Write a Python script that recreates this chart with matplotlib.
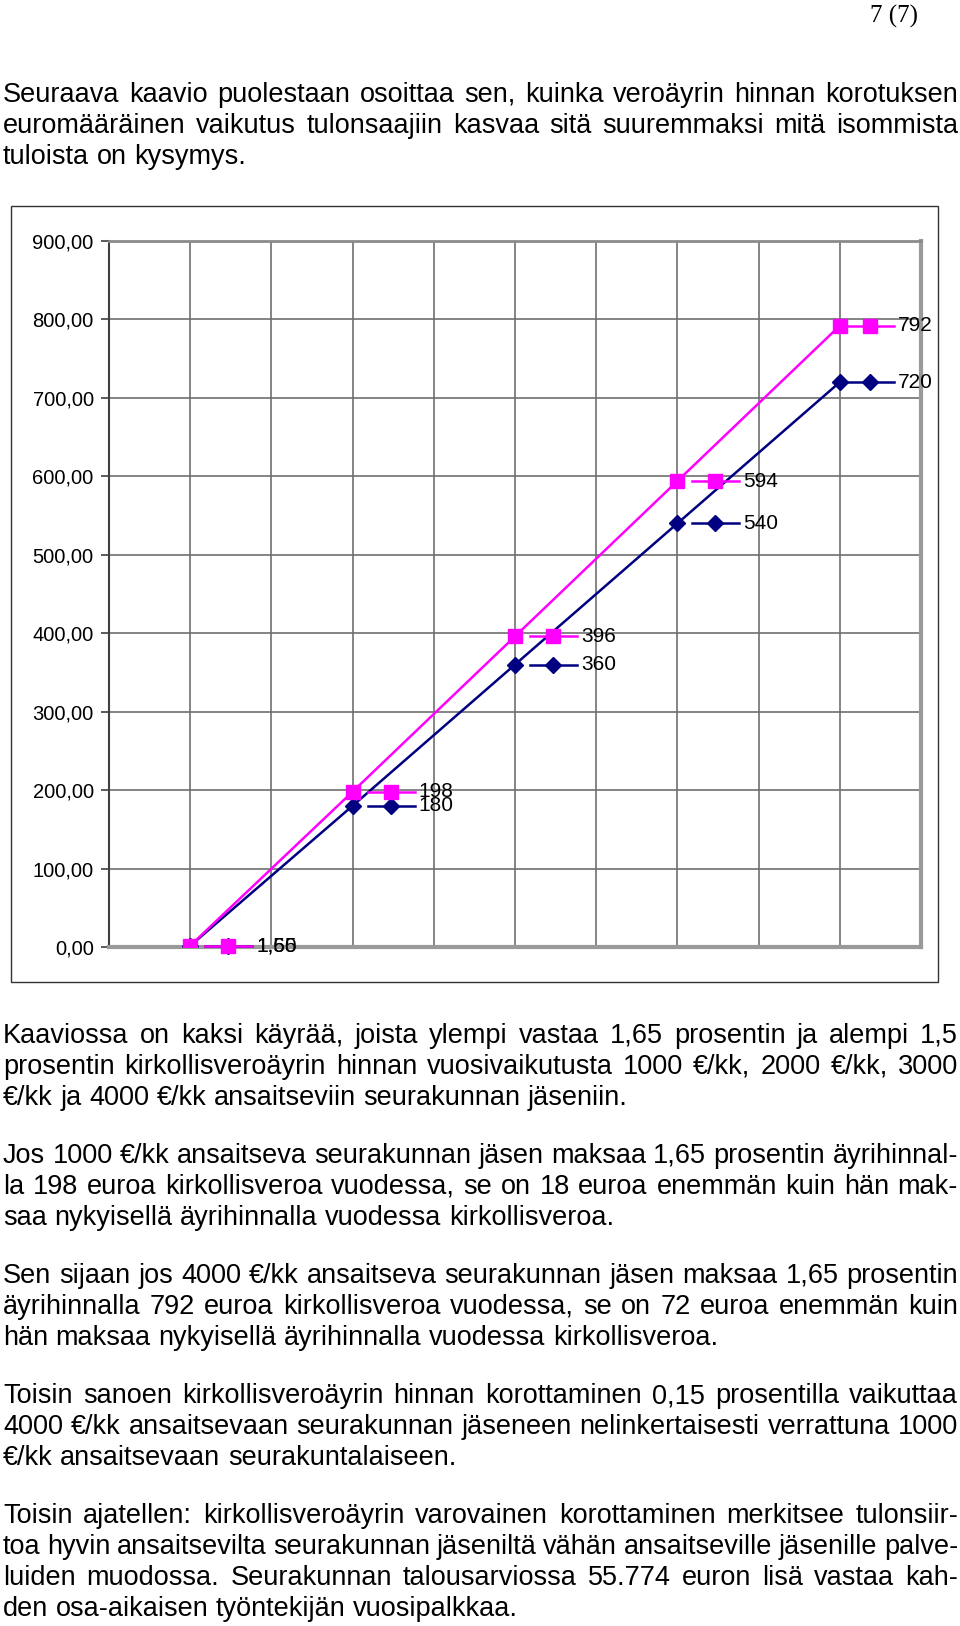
import matplotlib
matplotlib.use('Agg')
import numpy as np
import matplotlib.pyplot as plt
from matplotlib.patches import Rectangle

W, H = 960, 1626

# Chart data: yearly church tax (euro) for 1000..4000 euro/month earners
categories = ['', '1000', '2000', '3000', '4000']
upper = [1.65, 198, 396, 594, 792]   # 1,65 % tax rate
lower = [1.50, 180, 360, 540, 720]   # 1,5 % tax rate
upper_labels = ['1,65', '198', '396', '594', '792']
lower_labels = ['1,50', '180', '360', '540', '720']
y_ticks = [0, 100, 200, 300, 400, 500, 600, 700, 800, 900]

# Page text, line by line as laid out in the document
para_intro = [
    "Seuraava kaavio puolestaan osoittaa sen, kuinka veroäyrin hinnan korotuksen",
    "euromääräinen vaikutus tulonsaajiin kasvaa sitä suuremmaksi mitä isommista",
    "tuloista on kysymys.",
]
paras_after = [
    ["Kaaviossa on kaksi käyrää, joista ylempi vastaa 1,65 prosentin ja alempi 1,5",
     "prosentin kirkollisveroäyrin hinnan vuosivaikutusta 1000 €/kk, 2000 €/kk, 3000",
     "€/kk ja 4000 €/kk ansaitseviin seurakunnan jäseniin."],
    ["Jos 1000 €/kk ansaitseva seurakunnan jäsen maksaa 1,65 prosentin äyrihinnal-",
     "la 198 euroa kirkollisveroa vuodessa, se on 18 euroa enemmän kuin hän mak-",
     "saa nykyisellä äyrihinnalla vuodessa kirkollisveroa."],
    ["Sen sijaan jos 4000 €/kk ansaitseva seurakunnan jäsen maksaa 1,65 prosentin",
     "äyrihinnalla 792 euroa kirkollisveroa vuodessa, se on 72 euroa enemmän kuin",
     "hän maksaa nykyisellä äyrihinnalla vuodessa kirkollisveroa."],
    ["Toisin sanoen kirkollisveroäyrin hinnan korottaminen 0,15 prosentilla vaikuttaa",
     "4000 €/kk ansaitsevaan seurakunnan jäseneen nelinkertaisesti verrattuna 1000",
     "€/kk ansaitsevaan seurakuntalaiseen."],
    ["Toisin ajatellen: kirkollisveroäyrin varovainen korottaminen merkitsee tulonsiir-",
     "toa hyvin ansaitsevilta seurakunnan jäseniltä vähän ansaitseville jäsenille palve-",
     "luiden muodossa. Seurakunnan talousarviossa 55.774 euron lisä vastaa kah-",
     "den osa-aikaisen työntekijän vuosipalkkaa."],
]

fig = plt.figure(figsize=(W / 100, H / 100), dpi=100)
fig.patch.set_facecolor('white')

# page layer in pixel coordinates
page = fig.add_axes([0, 0, 1, 1])
page.set_xlim(0, W)
page.set_ylim(H, 0)
page.axis('off')

sans = ['Liberation Sans', 'DejaVu Sans']
body_font = dict(family=sans, fontsize=19.5, color='black')
renderer = fig.canvas.get_renderer()


def text_width(s, **kw):
    t = page.text(0, 0, s, **kw)
    w = t.get_window_extent(renderer).width
    t.remove()
    return w


space_w = text_width('a a', **body_font) - text_width('aa', **body_font)
LEFT, RIGHT = 3, 958
LINE_STEP = 31.1


def put_paragraph(lines, y0):
    for i, line in enumerate(lines):
        y = y0 + i * LINE_STEP
        words = line.split(' ')
        widths = [text_width(w, **body_font) for w in words]
        last = i == len(lines) - 1
        if not last and len(words) > 1:
            gap = (RIGHT - LEFT - sum(widths)) / (len(words) - 1)
        else:
            gap = space_w
        x = LEFT
        for w, wd in zip(words, widths):
            page.text(x, y, w, ha='left', va='baseline', **body_font)
            x += wd + gap


page.text(918, 23, '7 (7)', ha='right', va='baseline',
          family=['Liberation Serif', 'DejaVu Serif'], fontsize=18)

put_paragraph(para_intro, 101.5)
for lines, y0 in zip(paras_after, [1042.5, 1162.5, 1282.5, 1403, 1523]):
    put_paragraph(lines, y0)

# chart frame
FRAME_L, FRAME_T, FRAME_R, FRAME_B = 10.5, 206, 938, 982
page.add_patch(Rectangle((FRAME_L, FRAME_T), FRAME_R - FRAME_L, FRAME_B - FRAME_T,
                         fill=False, ec='#333333', lw=1.0))

# chart plot area
PA_L, PA_T, PA_R, PA_B = 109, 241, 921, 947
ax = fig.add_axes([PA_L / W, 1 - PA_B / H, (PA_R - PA_L) / W, (PA_B - PA_T) / H])
x = np.arange(len(categories))
ax.set_xlim(-0.5, len(categories) - 0.5)
ax.set_ylim(0, 900)

ax.set_xticks(np.arange(-0.5, len(categories) - 0.49, 0.5))
ax.set_yticks(y_ticks)
ax.set_yticklabels(['%d,00' % v for v in y_ticks])
ax.tick_params(axis='x', length=0, labelbottom=False)
ax.tick_params(axis='y', length=6, width=1.2, color='#404040', pad=5,
               labelsize=14.5)
for lab in ax.get_yticklabels():
    lab.set_family(sans)
ax.grid(True, color='#707070', lw=1.2)
ax.set_axisbelow(True)

ax.spines['left'].set_color('#404040')
ax.spines['left'].set_linewidth(1.5)
ax.spines['top'].set_color('#8a8a8a')
ax.spines['top'].set_linewidth(2)
for s in ['right', 'bottom']:
    ax.spines[s].set_color('#9a9a9a')
    ax.spines[s].set_linewidth(3)

navy = '#000080'
pink = '#FF00FF'
ax.plot(x, lower, color=navy, lw=1.8, marker='D', ms=8.5, zorder=3)
ax.plot(x, upper, color=pink, lw=1.8, marker='s', ms=10, zorder=4)

# data labels with legend key to the right of each point
px = len(categories) / float(PA_R - PA_L)  # data units per pixel along x
label_font = dict(fontsize=15, family=sans)


def key_label(xi, yi, text, color, marker, ms, z):
    # keep the label inside the chart frame, as the spreadsheet does
    point_px = PA_L + (xi + 0.5) / px
    end_px = point_px + 66 + text_width(text, **label_font)
    shift = min(0.0, (FRAME_R - 5) - end_px)
    ax.plot([xi + (15 + shift) * px, xi + (62 + shift) * px], [yi, yi], color=color,
            lw=1.8, zorder=z, clip_on=False)
    ax.plot([xi + (38 + shift) * px], [yi], color=color, marker=marker, ms=ms,
            zorder=z, clip_on=False)
    ax.text(xi + (66 + shift) * px, yi, text, ha='left', va='center', zorder=6,
            clip_on=False, **label_font)


for i in x:
    key_label(i, lower[i], lower_labels[i], navy, 'D', 8.5, 5)
    key_label(i, upper[i], upper_labels[i], pink, 's', 10, 5.5)

fig.savefig('out.png', dpi=100, facecolor='white')
